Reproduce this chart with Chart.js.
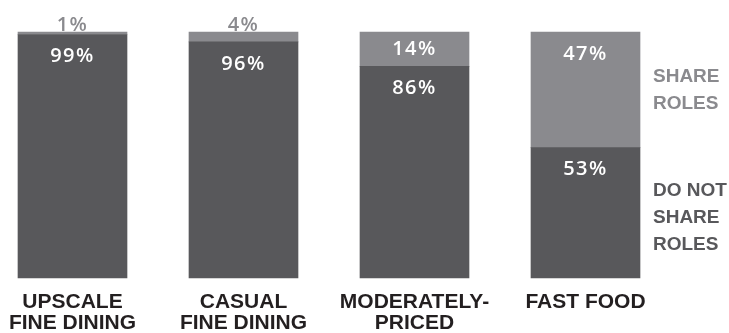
<!DOCTYPE html>
<html>
<head>
<meta charset="utf-8">
<script src="https://cdn.jsdelivr.net/npm/chart.js@4"></script>
<style>
  html, body { margin: 0; padding: 0; background: #fff; }
</style>
</head>
<body>
<canvas id="chart" width="729" height="333"></canvas>
<script>
// categories (multi-line labels under the bars)
const categories = [
  ["UPSCALE", "FINE DINING"],
  ["CASUAL", "FINE DINING"],
  ["MODERATELY-", "PRICED"],
  ["FAST FOOD"]
];
const seriesNames = [["DO NOT", "SHARE", "ROLES"], ["SHARE", "ROLES"]];
const doNotShare = [99, 96, 86, 53];
const share = [1, 4, 14, 47];

const DARK = "#58585b";
const LIGHT = "#8a8a8e";

// percent labels inside / above each segment
const valueLabels = {
  id: "valueLabels",
  afterDatasetsDraw(chart) {
    const ctx = chart.ctx;
    ctx.save();
    ctx.font = "600 20px 'Open Sans'";
    ctx.letterSpacing = "1.5px";
    ctx.textAlign = "center";
    chart.data.datasets.forEach((ds, di) => {
      const meta = chart.getDatasetMeta(di);
      meta.data.forEach((bar, i) => {
        const top = Math.min(bar.y, bar.base);
        const h = Math.abs(bar.base - bar.y);
        const txt = ds.data[i] + "%";
        if (h < 20) {
          ctx.fillStyle = LIGHT;
          ctx.textBaseline = "alphabetic";
          ctx.fillText(txt, bar.x, top - 1);
        } else {
          ctx.fillStyle = "#fff";
          ctx.textBaseline = "middle";
          ctx.fillText(txt, bar.x, Math.min(top + 22, top + h / 2));
        }
      });
    });
    ctx.restore();
  }
};

// series names to the right of the last bar
const sideLegend = {
  id: "sideLegend",
  afterDatasetsDraw(chart) {
    const ctx = chart.ctx;
    ctx.save();
    ctx.font = "bold 19px 'Liberation Sans'";
    ctx.textAlign = "left";
    ctx.textBaseline = "middle";
    chart.data.datasets.forEach((ds, di) => {
      const meta = chart.getDatasetMeta(di);
      const bar = meta.data[meta.data.length - 1];
      const mid = (bar.y + bar.base) / 2 + (di === 0 ? 5 : 0);
      const lines = seriesNames[di];
      const lh = 27;
      const x = bar.x + bar.width / 2 + 13;
      ctx.fillStyle = ds.backgroundColor;
      lines.forEach((ln, k) => {
        ctx.fillText(ln, x, mid + (k - (lines.length - 1) / 2) * lh);
      });
    });
    ctx.restore();
  }
};

new Chart(document.getElementById("chart"), {
  type: "bar",
  data: {
    labels: categories,
    datasets: [
      { label: "DO NOT SHARE ROLES", data: doNotShare, backgroundColor: DARK, clip: false },
      { label: "SHARE ROLES", data: share, backgroundColor: LIGHT, clip: false }
    ]
  },
  options: {
    responsive: false,
    animation: false,
    barThickness: 109,
    layout: { padding: { left: 72.5, right: 143.5, top: 32, bottom: 0 } },
    plugins: {
      legend: { display: false },
      tooltip: { enabled: false }
    },
    scales: {
      x: {
        stacked: true,
        offset: false,
        grid: { display: false, drawTicks: false },
        border: { display: false },
        afterFit(scale) {
          scale.height = 55;
          scale.paddingLeft = 0;
          scale.paddingRight = 0;
        },
        ticks: {
          autoSkip: false,
          maxRotation: 0,
          padding: 14,
          color: "#231f20",
          font: { family: "'Liberation Sans'", weight: "bold", size: 21, lineHeight: 1.0 }
        }
      },
      y: {
        stacked: true,
        display: false,
        min: 0,
        max: 100
      }
    }
  },
  plugins: [valueLabels, sideLegend]
});
</script>
</body>
</html>
